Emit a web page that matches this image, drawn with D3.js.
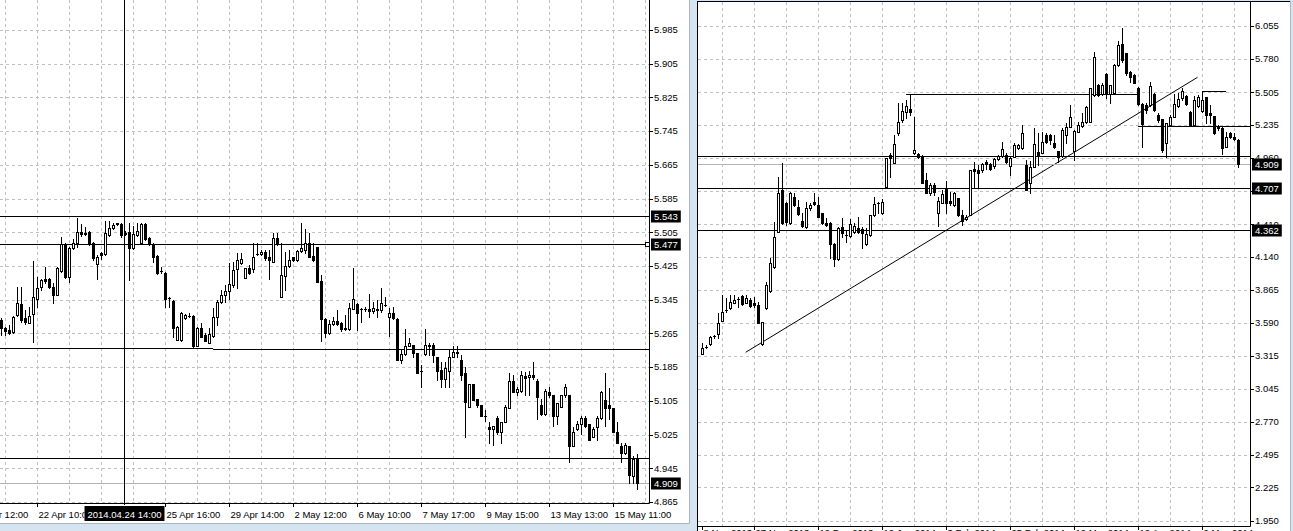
<!DOCTYPE html>
<html><head><meta charset="utf-8">
<script src="https://cdn.jsdelivr.net/npm/d3@7"></script>
<style>
body{margin:0;background:#d6e3f1;overflow:hidden;}
svg{display:block;}
text{font-family:"Liberation Sans",Arial,sans-serif;font-size:9.5px;fill:#000;}
</style></head><body>
<svg id="c" width="1293" height="531"></svg>
<script>
// ---------------- LEFT CHART DATA (hourly) ----------------
const leftOpen = [5.298,5.277,5.274,5.269,5.309,5.336,5.302,5.290,5.312,5.347,
5.376,5.395,5.395,5.376,5.357,5.414,5.478,5.400,5.468,5.480,
5.506,5.501,5.506,5.480,5.430,5.456,5.454,5.499,5.516,5.525,
5.525,5.504,5.506,5.468,5.499,5.480,5.525,5.492,5.478,5.449,
5.414,5.409,5.350,5.343,5.250,5.250,5.302,5.307,5.307,5.236,
5.279,5.262,5.243,5.260,5.305,5.340,5.357,5.366,5.381,5.418,
5.433,5.397,5.421,5.418,5.454,5.454,5.459,5.447,5.435,5.492,
5.352,5.402,5.426,5.447,5.440,5.461,5.464,5.480,5.449,5.471,
5.390,5.300,5.267,5.288,5.295,5.290,5.279,5.276,5.324,5.336,
5.324,5.323,5.324,5.319,5.324,5.321,5.333,5.305,5.314,5.300,
5.203,5.217,5.236,5.238,5.219,5.177,5.217,5.238,5.238,5.210,
5.179,5.158,5.177,5.210,5.219,5.203,5.172,5.091,5.144,5.110,
5.094,5.070,5.044,5.039,5.065,5.030,5.054,5.089,5.151,5.127,
5.129,5.165,5.162,5.167,5.151,5.094,5.075,5.127,5.120,5.068,
5.091,5.118,5.120,4.999,5.039,5.049,5.065,5.049,5.020,5.042,
5.065,5.108,5.096,5.087,5.032,4.999,4.982,4.999,4.926,4.968];
const leftHigh = [5.302,5.281,5.284,5.307,5.376,5.376,5.321,5.328,5.437,5.400,
5.395,5.423,5.397,5.385,5.423,5.494,5.480,5.471,5.490,5.539,
5.525,5.518,5.508,5.483,5.452,5.459,5.532,5.532,5.528,5.528,
5.528,5.509,5.528,5.520,5.528,5.527,5.527,5.494,5.480,5.450,
5.423,5.411,5.352,5.345,5.283,5.317,5.312,5.314,5.309,5.281,
5.290,5.267,5.279,5.326,5.345,5.369,5.381,5.433,5.435,5.456,
5.456,5.421,5.428,5.480,5.480,5.464,5.464,5.464,5.504,5.504,
5.480,5.459,5.464,5.447,5.464,5.528,5.513,5.504,5.480,5.471,
5.404,5.302,5.298,5.305,5.321,5.293,5.309,5.338,5.421,5.338,
5.326,5.328,5.359,5.340,5.345,5.373,5.352,5.326,5.328,5.302,
5.227,5.276,5.255,5.238,5.219,5.191,5.276,5.243,5.243,5.210,
5.198,5.198,5.227,5.234,5.234,5.215,5.186,5.144,5.144,5.110,
5.096,5.084,5.056,5.046,5.068,5.056,5.094,5.172,5.167,5.139,
5.177,5.174,5.177,5.198,5.158,5.110,5.132,5.139,5.120,5.101,
5.120,5.144,5.120,5.044,5.058,5.068,5.068,5.051,5.042,5.068,
5.129,5.170,5.136,5.087,5.056,5.004,5.006,4.999,4.975,4.978];
const leftLow = [5.262,5.262,5.263,5.267,5.307,5.293,5.288,5.290,5.245,5.328,
5.369,5.385,5.373,5.338,5.355,5.411,5.397,5.388,5.466,5.471,
5.497,5.499,5.476,5.440,5.395,5.442,5.452,5.497,5.513,5.523,
5.494,5.499,5.392,5.466,5.497,5.478,5.487,5.475,5.435,5.406,
5.409,5.328,5.328,5.257,5.250,5.248,5.300,5.305,5.232,5.234,
5.257,5.246,5.243,5.257,5.286,5.338,5.340,5.347,5.376,5.373,
5.430,5.397,5.407,5.411,5.452,5.452,5.440,5.395,5.435,5.475,
5.352,5.369,5.423,5.437,5.437,5.459,5.456,5.447,5.437,5.388,
5.246,5.257,5.264,5.286,5.286,5.271,5.274,5.274,5.324,5.274,
5.293,5.319,5.305,5.314,5.305,5.317,5.331,5.260,5.300,5.201,
5.196,5.215,5.234,5.210,5.172,5.139,5.215,5.215,5.198,5.155,
5.139,5.139,5.139,5.208,5.208,5.155,5.020,5.091,5.106,5.091,
5.068,5.058,5.004,5.001,5.027,5.006,5.054,5.089,5.127,5.120,
5.127,5.120,5.120,5.158,5.063,5.072,5.072,5.115,5.046,5.049,
5.091,5.115,4.959,4.997,5.037,5.027,5.044,5.013,5.020,5.013,
5.063,5.046,5.063,5.030,5.006,4.959,4.980,4.911,4.911,4.897];
const leftClose = [5.277,5.270,5.267,5.305,5.338,5.298,5.293,5.307,5.352,5.373,
5.392,5.390,5.376,5.357,5.421,5.478,5.400,5.468,5.480,5.506,
5.501,5.504,5.478,5.445,5.447,5.452,5.504,5.516,5.523,5.526,
5.499,5.502,5.468,5.501,5.509,5.525,5.490,5.478,5.447,5.409,
5.413,5.347,5.349,5.279,5.281,5.314,5.309,5.307,5.234,5.279,
5.257,5.246,5.264,5.305,5.340,5.355,5.366,5.383,5.416,5.440,
5.442,5.421,5.409,5.447,5.454,5.459,5.445,5.440,5.492,5.478,
5.404,5.425,5.440,5.440,5.461,5.468,5.480,5.447,5.440,5.388,
5.300,5.267,5.288,5.295,5.288,5.276,5.276,5.326,5.347,5.314,
5.323,5.324,5.319,5.326,5.321,5.338,5.333,5.314,5.302,5.203,
5.217,5.234,5.243,5.219,5.172,5.177,5.238,5.236,5.215,5.177,
5.158,5.182,5.210,5.222,5.220,5.167,5.103,5.144,5.108,5.094,
5.068,5.070,5.039,5.046,5.030,5.056,5.091,5.151,5.127,5.132,
5.167,5.160,5.167,5.162,5.115,5.075,5.129,5.120,5.068,5.101,
5.118,5.139,4.997,5.032,5.051,5.065,5.046,5.013,5.039,5.065,
5.125,5.087,5.087,5.032,5.006,4.982,5.001,4.930,4.968,4.909];
const leftPriceTicks = ["5.985","5.905","5.825","5.745","5.665","5.585","5.505","5.425","5.345","5.265","5.185","5.105","5.025","4.945","4.865"];
const leftTimeBars = [-7,9,41,57,73,89,105,121,137,153];
const leftTimeLabels = ["21 Apr 12:00","22 Apr 10:00","25 Apr 16:00","29 Apr 14:00","2 May 12:00","6 May 10:00","7 May 17:00","9 May 15:00","13 May 13:00","15 May 11:00"];
const leftLevels = [5.543, 5.477, 4.970];
const leftSegments = [[-1, 52.9, 5.231], [52.9, 165, 5.228]];
const leftPriceBoxes = ["5.543","5.477","4.909"];
const leftCrosshairBar = 30.5;
const leftCrosshairLabel = "2014.04.24 14:00";

// ---------------- RIGHT CHART DATA (daily) ----------------
const rightOpen = [3.333,3.393,3.413,3.478,3.499,3.609,3.698,3.712,3.758,3.787,
3.814,3.758,3.781,3.753,3.739,3.416,3.712,3.858,4.052,4.348,
4.694,4.583,4.417,4.638,4.550,4.439,4.384,4.542,4.597,4.569,
4.500,4.422,4.417,4.246,4.119,4.389,4.320,4.312,4.348,4.376,
4.367,4.246,4.320,4.486,4.583,4.500,4.716,4.984,4.920,5.169,
5.275,5.341,5.364,4.999,4.992,4.976,4.777,4.666,4.735,4.506,
4.588,4.700,4.605,4.569,4.625,4.486,4.450,4.486,4.866,4.860,
4.860,4.929,4.910,4.893,4.948,4.976,4.984,4.895,4.970,5.040,
5.040,4.901,4.749,4.887,5.012,5.003,5.150,5.150,5.081,5.017,
4.976,5.150,5.219,5.020,5.178,5.225,5.261,5.261,5.482,5.565,
5.491,5.657,5.491,5.501,5.731,5.906,5.828,5.676,5.648,5.543,
5.405,5.399,5.399,5.491,5.316,5.281,5.081,5.233,5.302,5.391,
5.455,5.474,5.344,5.233,5.391,5.352,5.463,5.330,5.308,5.225,
5.206,5.054,5.169,5.131,5.109];
const rightHigh = [3.424,3.407,3.482,3.490,3.673,3.822,3.797,3.822,3.822,3.808,
3.822,3.822,3.797,3.808,3.767,3.601,3.933,4.127,4.431,4.804,
4.920,4.597,4.680,4.671,4.611,4.500,4.597,4.588,4.666,4.638,
4.506,4.459,4.431,4.251,4.389,4.459,4.362,4.450,4.417,4.472,
4.389,4.376,4.486,4.633,4.597,4.616,4.957,4.998,5.150,5.418,
5.413,5.441,5.491,5.302,4.998,4.984,4.832,4.749,4.749,4.638,
4.694,4.771,4.680,4.680,4.625,4.528,4.486,4.860,4.929,4.901,
4.920,4.943,4.915,4.957,4.984,5.095,4.998,4.970,5.086,5.075,
5.233,4.943,4.937,5.206,5.164,5.178,5.169,5.156,5.150,5.017,
5.206,5.247,5.399,5.192,5.261,5.330,5.391,5.538,5.842,5.574,
5.579,5.662,5.565,5.739,5.933,6.036,5.828,5.684,5.656,5.551,
5.413,5.413,5.593,5.496,5.330,5.281,5.247,5.316,5.491,5.496,
5.538,5.482,5.352,5.474,5.482,5.516,5.468,5.399,5.308,5.233,
5.225,5.178,5.178,5.164,5.115];
const rightLow = [3.333,3.382,3.407,3.466,3.466,3.607,3.681,3.706,3.756,3.725,
3.739,3.756,3.725,3.725,3.587,3.407,3.704,3.850,4.044,4.348,
4.412,4.403,4.412,4.561,4.486,4.389,4.378,4.528,4.569,4.472,
4.412,4.395,4.127,4.063,4.113,4.301,4.265,4.306,4.334,4.334,
4.210,4.237,4.312,4.478,4.500,4.494,4.716,4.804,4.915,5.150,
5.261,5.292,5.319,4.991,4.957,4.752,4.666,4.652,4.652,4.395,
4.583,4.500,4.569,4.561,4.478,4.403,4.445,4.486,4.721,4.721,
4.846,4.866,4.860,4.874,4.943,4.970,4.915,4.818,4.965,5.034,
5.034,4.694,4.666,4.882,4.901,4.998,5.081,5.076,5.040,4.929,
4.970,5.081,5.214,4.943,5.173,5.219,5.247,5.261,5.474,5.474,
5.482,5.455,5.413,5.496,5.723,5.759,5.648,5.593,5.579,5.399,
5.053,5.330,5.391,5.352,5.261,5.012,4.970,5.225,5.297,5.385,
5.441,5.399,5.225,5.225,5.385,5.344,5.247,5.252,5.159,5.192,
4.992,5.048,5.123,5.109,4.887];
const rightClose = [3.380,3.393,3.476,3.478,3.587,3.684,3.698,3.767,3.781,3.786,
3.748,3.795,3.731,3.739,3.592,3.596,3.905,4.085,4.301,4.666,
4.422,4.431,4.666,4.569,4.492,4.395,4.542,4.569,4.578,4.472,
4.417,4.403,4.246,4.119,4.376,4.340,4.320,4.412,4.395,4.348,
4.334,4.329,4.486,4.578,4.583,4.597,4.957,4.957,5.075,5.256,
5.350,5.391,5.341,5.026,4.965,4.754,4.671,4.735,4.680,4.605,
4.661,4.583,4.588,4.666,4.486,4.436,4.472,4.860,4.854,4.837,
4.910,4.910,4.866,4.948,4.976,5.032,4.929,4.957,5.067,5.067,
5.169,4.694,4.887,5.073,4.976,5.090,5.095,5.109,5.048,4.970,
5.192,5.219,5.297,5.186,5.233,5.261,5.385,5.538,5.795,5.482,
5.565,5.491,5.565,5.731,5.897,5.773,5.662,5.634,5.585,5.408,
5.239,5.358,5.557,5.358,5.275,5.026,5.247,5.302,5.408,5.449,
5.518,5.408,5.233,5.441,5.468,5.441,5.316,5.316,5.164,5.206,
5.040,5.136,5.131,5.115,4.909];
const rightPriceTicks = ["6.055","5.780","5.505","5.235","4.960","4.685","4.410","4.140","3.865","3.590","3.315","3.045","2.770","2.495","2.225","1.950"];
const rightTimeBars = [0,13,29,45,61,77,93,109,125];
const rightTimeLabels = ["8 Nov 2013","27 Nov 2013","19 Dec 2013","10 Jan 2014","3 Feb 2014","25 Feb 2014","19 Mar 2014","10 Apr 2014","2 May 2014"];
const rightLevels = [4.974, 4.707, 4.362];
const rightSegments = [[50.9, 108.9, 5.491], [108.9, 140, 5.225], [124.9, 130.9, 5.516]];
const rightTrend = [[10.8, 3.347], [123.75, 5.629]];
const rightPriceBoxes = ["4.909","4.707","4.362"];
const bidPrice = 4.909;

// ---------------- DRAWING ----------------
const svg = d3.select("#c");
const BG = "#d6e3f1", GRID = "#c0c0c0";
svg.append("rect").attr("width",1293).attr("height",531).attr("fill",BG);

function panel(cfg){
  const g = svg.append("g");
  const n = cfg.open.length;
  const x = d3.scaleLinear().domain([0, n-1]).range([cfg.x0, cfg.x0 + cfg.step*(n-1)]);
  const y = d3.scaleLinear().domain(cfg.yDomain).range(cfg.yRange);
  const cid = "clip"+cfg.id;
  svg.append("clipPath").attr("id",cid).append("rect")
    .attr("x",cfg.left).attr("y",cfg.top).attr("width",cfg.axisX-cfg.left).attr("height",cfg.axisY-cfg.top);
  const plot = g.append("g").attr("clip-path","url(#"+cid+")");
  const py = v => Math.round(y(v)) + 0.5;

  const ticks = cfg.priceTicks.map(Number);
  plot.selectAll(".hg").data(ticks).join("line")
    .attr("x1",cfg.left).attr("x2",cfg.axisX).attr("y1",py).attr("y2",py)
    .attr("stroke",GRID).attr("stroke-dasharray","3,3");
  const vg = d3.range(cfg.gridStart - 8, n + 8, 8);
  plot.selectAll(".vg").data(vg).join("line")
    .attr("x1",d=>x(d)).attr("x2",d=>x(d)).attr("y1",cfg.top).attr("y2",cfg.axisY)
    .attr("stroke",GRID).attr("stroke-dasharray","3,3");

  plot.selectAll(".lv").data(cfg.levels).join("line")
    .attr("x1",cfg.left).attr("x2",cfg.axisX).attr("y1",py).attr("y2",py)
    .attr("stroke","#000");
  plot.selectAll(".sg").data(cfg.segments).join("line")
    .attr("x1",d=>x(d[0])).attr("x2",d=>x(d[1])).attr("y1",d=>py(d[2])).attr("y2",d=>py(d[2]))
    .attr("stroke","#000");
  if(cfg.trend){
    plot.append("line").attr("x1",x(cfg.trend[0][0])).attr("y1",y(cfg.trend[0][1]))
      .attr("x2",x(cfg.trend[1][0])).attr("y2",y(cfg.trend[1][1])).attr("stroke","#000").attr("stroke-width",1);
  }
  plot.append("line").attr("x1",cfg.left).attr("x2",cfg.axisX).attr("y1",py(bidPrice)).attr("y2",py(bidPrice))
    .attr("stroke","#b4b4b4");

  const idx = d3.range(n);
  plot.selectAll(".wk").data(idx).join("line")
    .attr("x1",i=>x(i)).attr("x2",i=>x(i))
    .attr("y1",i=>Math.round(y(cfg.high[i]))).attr("y2",i=>Math.round(y(cfg.low[i]))+1)
    .attr("stroke","#000");
  idx.forEach(i=>{
    const o=cfg.open[i], c=cfg.close[i];
    const yt=Math.round(y(Math.max(o,c))), yb=Math.round(y(Math.min(o,c)));
    const cx=x(i);
    if(yb-yt<1){
      plot.append("line").attr("x1",cx-1.5).attr("x2",cx+1.5).attr("y1",yt+0.5).attr("y2",yt+0.5).attr("stroke","#000");
    } else {
      plot.append("rect").attr("x",cx-1).attr("y",yt+0.5).attr("width",2).attr("height",yb-yt)
        .attr("fill", c>=o ? "#fff" : "#000").attr("stroke","#000");
    }
  });

  if(cfg.crossBar!=null){
    g.append("line").attr("x1",Math.round(x(cfg.crossBar))+0.5).attr("x2",Math.round(x(cfg.crossBar))+0.5)
      .attr("y1",0).attr("y2",cfg.axisY+2).attr("stroke","#000");
  }

  g.append("line").attr("x1",cfg.axisX+0.5).attr("x2",cfg.axisX+0.5).attr("y1",cfg.top).attr("y2",cfg.axisY+0.5).attr("stroke","#000");
  g.append("line").attr("x1",cfg.left).attr("x2",cfg.axisX+0.5).attr("y1",cfg.axisY+0.5).attr("y2",cfg.axisY+0.5).attr("stroke","#000");

  const boxY = cfg.boxes.map(b=>y(+b));
  g.selectAll(".pt").data(ticks).join("line")
    .attr("x1",cfg.axisX+0.5).attr("x2",cfg.axisX+4).attr("y1",py).attr("y2",py).attr("stroke","#000");
  g.selectAll(".pl").data(cfg.priceTicks.filter(d=>boxY.every(b=>Math.abs(b-y(+d))>4))).join("text")
    .attr("x",cfg.axisX+5).attr("y",d=>y(+d)).attr("dy","0.35em").text(d=>d);

  let boxL = null, boxR = null, crossText = null;
  if(cfg.crossBar!=null){
    crossText = cfg.crossLabel;
    const cx = Math.round(x(cfg.crossBar))+0.5;
    const tmp = svg.append("text").text(crossText);
    const w = tmp.node().getComputedTextLength(); tmp.remove();
    boxL = cx - w/2 - 3; boxR = cx + w/2 + 3;
  }
  const tcp = svg.append("clipPath").attr("id","t"+cfg.id);
  if(boxL!=null){
    tcp.append("rect").attr("x",cfg.left).attr("y",cfg.axisY).attr("width",boxL-cfg.left).attr("height",60);
    tcp.append("rect").attr("x",boxR).attr("y",cfg.axisY).attr("width",cfg.axisX+40-boxR).attr("height",60);
  } else {
    tcp.append("rect").attr("x",cfg.left).attr("y",cfg.axisY).attr("width",cfg.axisX-cfg.left+40).attr("height",60);
  }
  const tg = g.append("g").attr("clip-path","url(#t"+cfg.id+")");
  tg.selectAll(".tt").data(cfg.timeBars).join("line")
    .attr("x1",d=>x(d)).attr("x2",d=>x(d)).attr("y1",cfg.axisY+0.5).attr("y2",cfg.axisY+4).attr("stroke","#000");
  tg.selectAll(".tl").data(cfg.timeBars).join("text")
    .attr("x",d=>x(d)+1).attr("y",cfg.axisY+cfg.timeDy).text((d,i)=>cfg.timeLabels[i]);

  if(boxL!=null){
    const cx = Math.round(x(cfg.crossBar))+0.5;
    g.append("rect").attr("x",boxL).attr("y",cfg.axisY+3).attr("width",boxR-boxL).attr("height",15).attr("fill","#000");
    g.append("text").attr("x",cx).attr("y",cfg.axisY+cfg.timeDy).attr("text-anchor","middle")
      .style("fill","#fff").text(crossText);
  }

  cfg.boxes.forEach(b=>{
    const yy = py(+b);
    const t = g.append("text").attr("x",cfg.axisX+5).attr("y",yy).attr("dy","0.35em").style("fill","#fff").text(b);
    const w = t.node().getComputedTextLength();
    g.insert("rect", () => t.node()).attr("x",cfg.axisX+2).attr("y",yy-6).attr("width",w+6).attr("height",12).attr("fill","#000");
  });
  if(cfg.marker!=null){
    g.append("rect").attr("x",cfg.axisX-3.5).attr("y",py(cfg.marker)-2).attr("width",4).attr("height",4)
      .attr("fill","#fff").attr("stroke","#000");
  }
  return {x,y};
}

svg.append("rect").attr("x",0).attr("y",0).attr("width",689).attr("height",523).attr("fill","#fff");
svg.append("line").attr("x1",689.5).attr("x2",689.5).attr("y1",0).attr("y2",523).attr("stroke","#a9b6c4");
svg.append("line").attr("x1",0).attr("x2",689.5).attr("y1",523.5).attr("y2",523.5).attr("stroke","#a9b6c4");
svg.append("rect").attr("x",697).attr("y",1).attr("width",593).attr("height",530).attr("fill","#fff");
svg.append("line").attr("x1",697.5).attr("x2",697.5).attr("y1",1).attr("y2",531).attr("stroke","#000");
svg.append("line").attr("x1",697).attr("x2",1290).attr("y1",1.5).attr("y2",1.5).attr("stroke","#000");
svg.append("line").attr("x1",1290.5).attr("x2",1290.5).attr("y1",1).attr("y2",531).attr("stroke","#a9b6c4");

panel({id:"L", open:leftOpen, high:leftHigh, low:leftLow, close:leftClose,
  x0:1.5, step:4, gridStart:1, left:0, top:0, axisX:649, axisY:503,
  yDomain:[4.865,5.985], yRange:[502,30], priceTicks:leftPriceTicks,
  timeBars:leftTimeBars, timeLabels:leftTimeLabels, timeDy:14.5,
  levels:leftLevels, segments:leftSegments, trend:null, boxes:leftPriceBoxes, marker:5.477,
  crossBar:leftCrosshairBar, crossLabel:leftCrosshairLabel});

panel({id:"R", open:rightOpen, high:rightHigh, low:rightLow, close:rightClose,
  x0:702.5, step:4, gridStart:5, left:698, top:2, axisX:1250, axisY:526,
  yDomain:[1.950,6.055], yRange:[520.6,26], priceTicks:rightPriceTicks,
  timeBars:rightTimeBars, timeLabels:rightTimeLabels, timeDy:10,
  levels:rightLevels, segments:rightSegments, trend:rightTrend, boxes:rightPriceBoxes, marker:null,
  crossBar:null});
</script>
</body></html>
